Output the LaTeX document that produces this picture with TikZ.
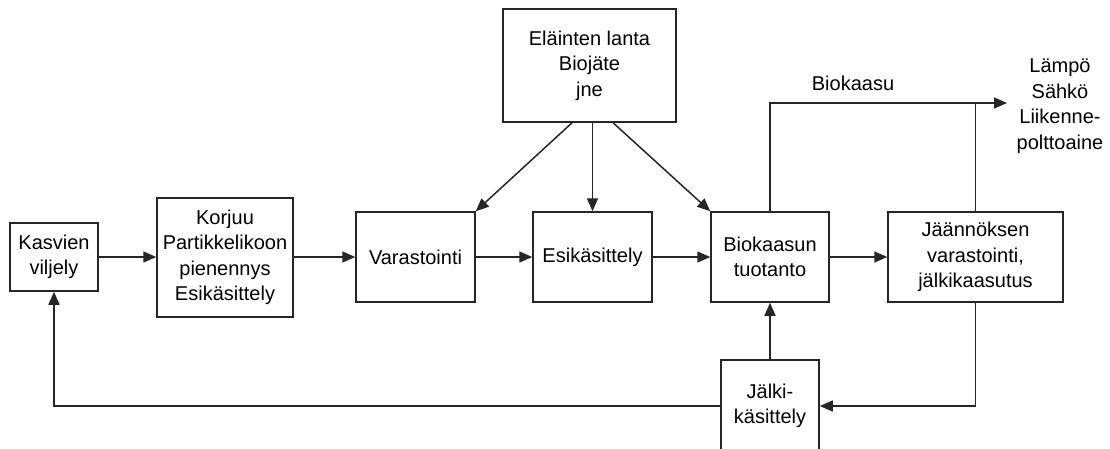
\documentclass[tikz,border=0pt]{standalone}
\usepackage{fontspec}
\setmainfont{Liberation Sans}
\usetikzlibrary{arrows.meta,calc}
\begin{document}
\begin{tikzpicture}[x=1pt,y=-1pt,
  box/.style={draw=black!85,line width=1.5pt,inner sep=0pt,align=center,font=\fontsize{20}{25.5}\selectfont},
  lbl/.style={inner sep=0pt,align=center,font=\fontsize{20}{25.5}\selectfont},
  conn/.style={draw=black!85,line width=1.5pt,-{Triangle[length=13pt,width=11pt]}},
  wire/.style={draw=black!85,line width=1.5pt}]
\useasboundingbox (0,0) rectangle (1110,448);
\clip (0,0) rectangle (1110,448);
\node[box,minimum width=88pt,minimum height=68pt] (kas) at (54,257) {Kasvien\\viljely};
\node[box,minimum width=136pt,minimum height=119pt] (kor) at (225,257.5) {Korjuu\\Partikkelikoon\\pienennys\\Esikäsittely};
\node[box,minimum width=119pt,minimum height=90pt] (var) at (415.5,257) {Varastointi};
\node[box,minimum width=119pt,minimum height=90pt] (esi) at (592.5,257) {Esikäsittely};
\node[box,minimum width=173pt,minimum height=113pt] (top) at (589.5,65.5) {Eläinten lanta\\Biojäte\\jne};
\node[box,minimum width=118pt,minimum height=90pt] (bio) at (770,257) {Biokaasun\\tuotanto};
\node[box,minimum width=175pt,minimum height=90pt] (jaa) at (975.5,257) {Jäännöksen\\varastointi,\\jälkikaasutus};
\node[box,minimum width=98pt,minimum height=92pt] (jal) at (770,406) {Jälki-\\käsittely};
\node[lbl] (gas) at (853,83) {Biokaasu};
\node[lbl] (use) at (1060,106) {Lämpö\\Sähkö\\Liikenne-\\polttoaine};
\coordinate (out) at (1007,103);
\draw[conn] (kas.east) -- (kas.east -| kor.west);
\draw[conn] (kor.east |- var.west) -- (var.west);
\draw[conn] (var) -- (esi);
\draw[conn] (esi) -- (bio);
\draw[conn] (bio) -- (jaa);
\draw[conn] ($(top.south west)!0.4!(top.south east)$) -- (var.north east);
\draw[conn] (esi.north |- top.south) -- (esi.north);
\draw[conn] ($(top.south west)!0.635!(top.south east)$) -- (bio.north west);
\draw[conn] (bio.north) |- (out);
\draw[wire] (jaa.north) -- (jaa.north |- out);
\draw[conn] (jal.north) -- (bio.south);
\draw[conn] (jaa.south) |- (jal.east);
\draw[conn] (jal.west) -| (kas.south);
\end{tikzpicture}
\end{document}
